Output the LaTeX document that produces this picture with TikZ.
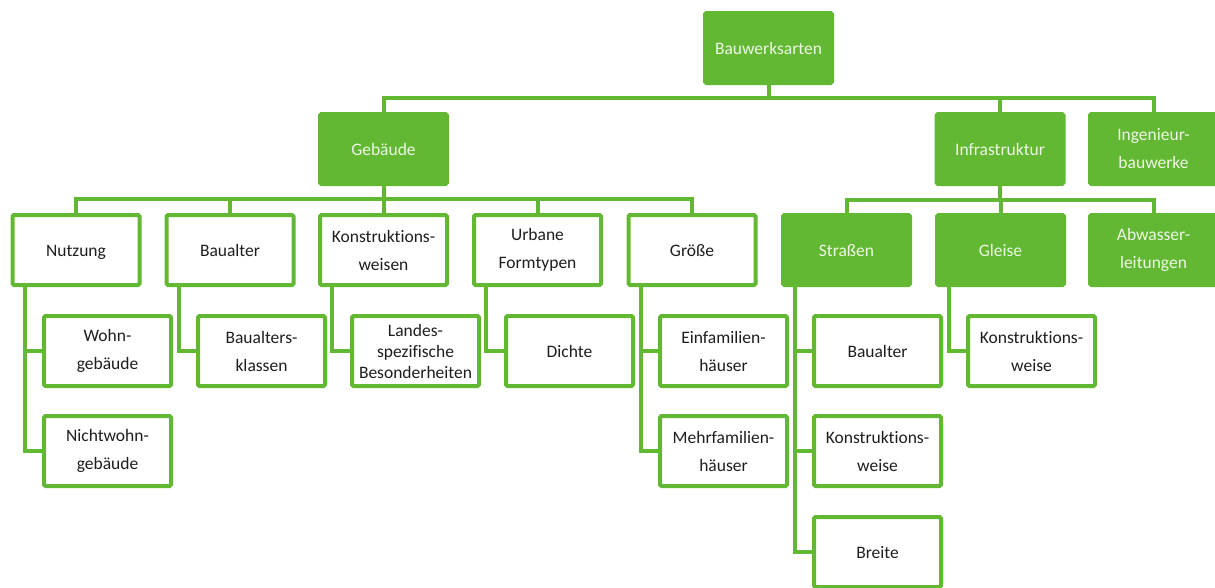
\documentclass[tikz,border=0pt]{standalone}
\usepackage{fontspec}
\setmainfont{Carlito}[RawFeature=-liga]
\usetikzlibrary{calc}
\definecolor{leaf}{RGB}{98,184,50}
\definecolor{ink}{RGB}{30,30,30}
\definecolor{paleink}{RGB}{238,247,230}
\tikzset{
  box/.style={draw=leaf, line width=4pt, rounded corners=1.5pt, fill=white,
    minimum width=127pt, minimum height=70pt, inner sep=0pt, align=center,
    text=ink, font=\fontsize{17.5}{28}\selectfont},
  filled/.style={box, fill=leaf, text=paleink},
  oneline/.style={text height=14pt, text depth=2pt},
  link/.style={draw=leaf, line width=4pt, line join=miter},
}
\begin{document}
\begin{tikzpicture}[x=1pt,y=-1pt]
\useasboundingbox (0,0) rectangle (1215,587);

% first two levels
\node[filled, oneline] (bw)    at (768.5,48)  {Bauwerksarten};
\node[filled, oneline] (geb)   at (383.5,149) {Gebäude};
\node[filled, oneline] (infra) at (1000,149)  {Infrastruktur};
\node[filled] (ing)   at (1153.5,149) {Ingenieur-\\bauwerke};

% building criteria
\node[box, oneline] (nutz)  at (76,250)    {Nutzung};
\node[box, oneline] (balt)  at (230,250)   {Baualter};
\node[box] (kons)  at (383.5,250) {Konstruktions-\\weisen};
\node[box] (urb)   at (537.5,250) {Urbane\\Formtypen};
\node[box, oneline] (gr)    at (692,250)   {Größe};

% infrastructure types
\node[filled, oneline] (str)  at (846.5,250)  {Straßen};
\node[filled, oneline] (gl)   at (1000.5,250) {Gleise};
\node[filled] (abw)  at (1153.5,250) {Abwasser-\\leitungen};

% third level
\node[box] (wohn)   at (107.5,351) {Wohn-\\gebäude};
\node[box] (nwohn)  at (107.5,451) {Nichtwohn-\\gebäude};
\node[box] (bak)    at (261.5,351) {Baualters-\\klassen};
\node[box, font=\fontsize{17.5}{21}\selectfont] (land) at (415.5,351) {Landes-\\spezifische\\Besonderheiten};
\node[box, oneline] (dichte) at (569.5,351) {Dichte};
\node[box] (efh)    at (723.5,351) {Einfamilien-\\häuser};
\node[box] (mfh)    at (723.5,451) {Mehrfamilien-\\häuser};
\node[box, oneline] (sba)    at (877.5,351) {Baualter};
\node[box] (skw)    at (877.5,451) {Konstruktions-\\weise};
\node[box, oneline] (sbr)    at (877.5,552) {Breite};
\node[box] (gkw)    at (1031.5,351) {Konstruktions-\\weise};

% top bar
\coordinate (b1) at (768.5,98);
\draw[link] (bw.south) -- (b1);
\draw[link] (geb.north) |- (b1);
\draw[link] (infra.north) |- (b1);
\draw[link] (ing.north) |- (b1);

% bar below Gebäude
\coordinate (b2) at (383.5,199);
\draw[link] (geb.south) -- (b2);
\foreach \n in {nutz,balt,kons,urb,gr}
  \draw[link] (\n.north) |- (b2);

% bar below Infrastruktur
\coordinate (b3) at (1000,200);
\draw[link] (infra.south) -- (b3);
\foreach \n in {str,gl,abw}
  \draw[link] (\n.north) |- (b3);

% side rails to the third level
\foreach \p/\last/\others in {nutz/nwohn/{wohn},balt/bak/{},kons/land/{},urb/dichte/{},gr/mfh/{efh},str/sbr/{sba,skw},gl/gkw/{}}{
  \coordinate (\p-rail) at ([xshift=14pt]\p.south west);
  \draw[link] (\p-rail) |- (\last.west);
  \foreach \c in \others
    \draw[link] (\p-rail |- \c.west) -- (\c.west);
}
\end{tikzpicture}
\end{document}
